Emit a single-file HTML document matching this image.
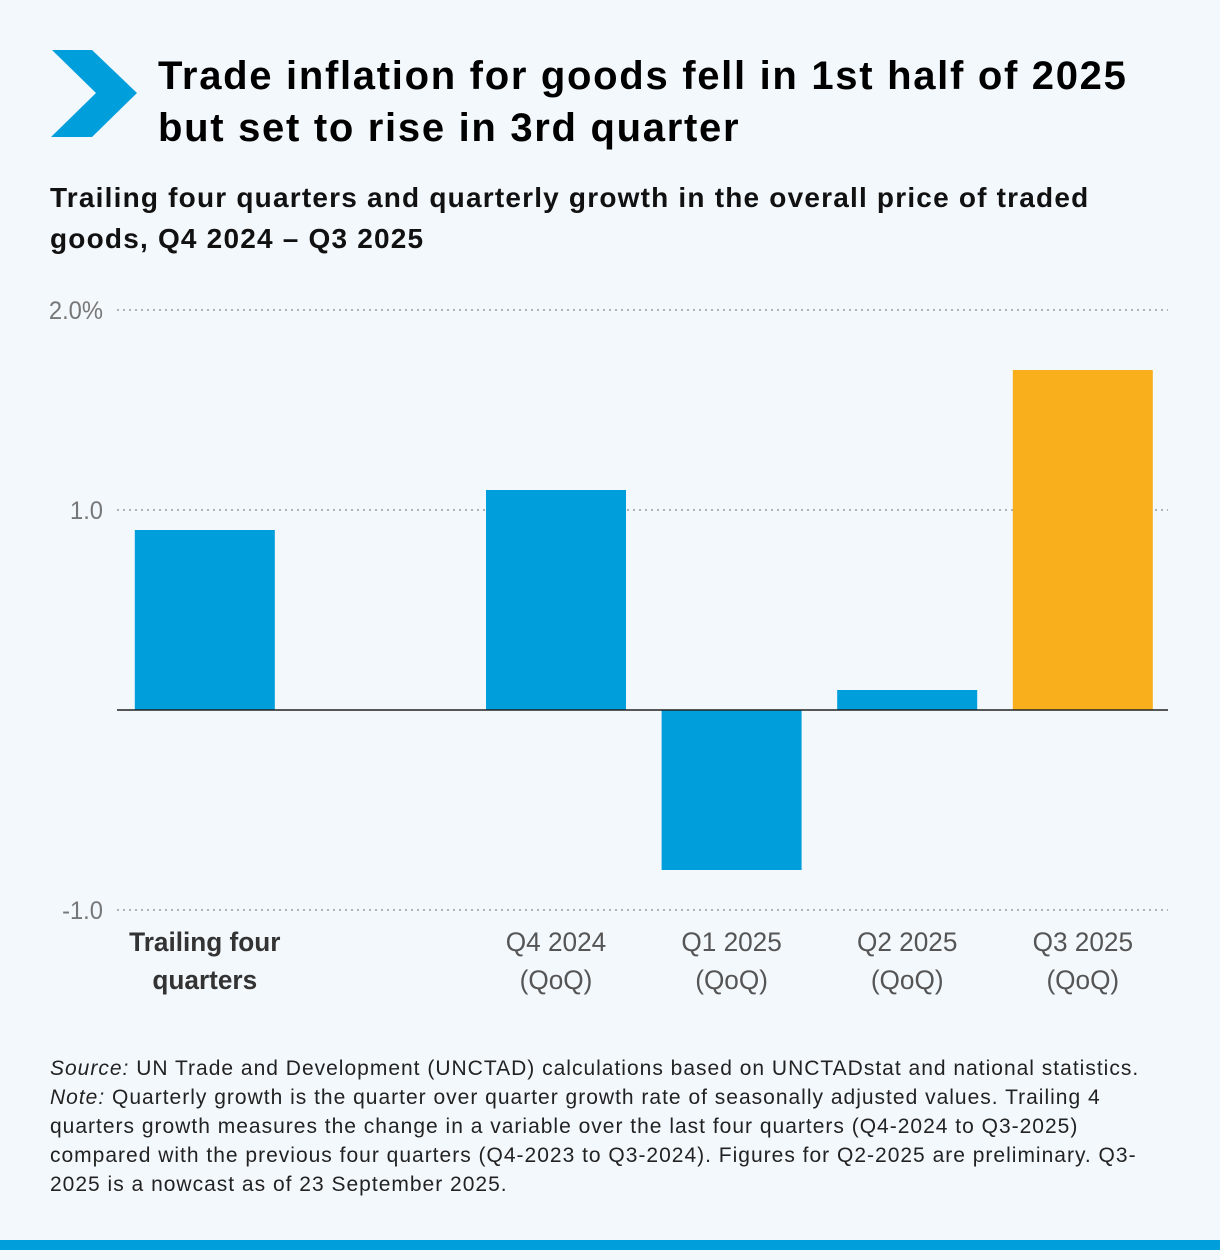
<!DOCTYPE html>
<html><head><meta charset="utf-8"><style>
body{margin:0;width:1220px;height:1260px;background:#f3f8fc;font-family:"Liberation Sans",sans-serif;position:relative;overflow:hidden}
.t{position:absolute;white-space:nowrap}
</style></head><body>
<svg width="1220" height="160" style="position:absolute;left:0;top:0">
<polygon points="52,50 92,50 137,93 92,137 51,137 96,93" fill="#009edb"/></svg>
<div class="t" style="left:158px;top:50px;font-size:40px;letter-spacing:1.7px;font-weight:bold;line-height:52px;color:#000">Trade inflation for goods fell in 1st half of 2025<br>but set to rise in 3rd quarter</div>
<div class="t" style="left:50px;top:177px;font-size:28px;letter-spacing:1.2px;font-weight:bold;line-height:41px;color:#111">Trailing four quarters and quarterly growth in the overall price of traded<br>goods, Q4 2024 – Q3 2025</div>
<svg id="chart" width="1220" height="1020" style="position:absolute;left:0;top:0"></svg>
<div class="t" style="left:50px;top:1054px;font-size:21px;letter-spacing:1px;line-height:29px;color:#222"><i>Source:</i> UN Trade and Development (UNCTAD) calculations based on UNCTADstat and national statistics.<br><i>Note:</i> Quarterly growth is the quarter over quarter growth rate of seasonally adjusted values. Trailing 4<br>quarters growth measures the change in a variable over the last four quarters (Q4-2024 to Q3-2025)<br>compared with the previous four quarters (Q4-2023 to Q3-2024). Figures for Q2-2025 are preliminary. Q3-<br>2025 is a nowcast as of 23 September 2025.</div>
<div style="position:absolute;left:0;top:1240px;width:1220px;height:10px;background:#009edb"></div>
<script>
const categories=["Trailing four|quarters","","Q4 2024|(QoQ)","Q1 2025|(QoQ)","Q2 2025|(QoQ)","Q3 2025|(QoQ)"];
const values=[0.9,null,1.1,-0.8,0.1,1.7];
const colors=["#009edb","#009edb","#009edb","#009edb","#009edb","#f9ae1b"];
const ticks=[2,1,0,-1];
const tickLabels=["2.0%","1.0","","-1.0"];
const NS="http://www.w3.org/2000/svg",svg=document.getElementById('chart');
const y=v=>710-v*200;
const x0=117,slot=175.6,bw=140;
const cx=i=>x0+slot*(i+0.5);
const sx=0.97;
function mk(t,a){const e=document.createElementNS(NS,t);for(const k in a)e.setAttribute(k,a[k]);svg.appendChild(e);return e;}
ticks.forEach((v,i)=>{
 if(v!==0){const l=mk('line',{x1:117,x2:1168,y1:y(v),y2:y(v),stroke:'#999','stroke-dasharray':'2,4','stroke-width':1.5});
 
 }
 if(tickLabels[i]){const t=mk('text',{x:103,y:y(v)+9,'text-anchor':'end','font-size':25,fill:'#777'});
 t.setAttribute('transform',`translate(${103-103*0.95},0) scale(0.95,1)`);
 t.textContent=tickLabels[i];
 
 }
});
values.forEach((v,i)=>{
 if(v!==null){const r=mk('rect',{x:cx(i)-bw/2,y:Math.min(y(v),y(0)),width:bw,height:Math.abs(y(v)-y(0)),fill:colors[i]});
 
 }
 if(categories[i]){categories[i].split('|').forEach((s,j)=>{
  const t=mk('text',{x:cx(i)/sx,y:951+j*38,'text-anchor':'middle','font-size':27,fill:i===0?'#333':'#555','font-weight':i===0?'bold':'normal',transform:`scale(${sx},1)`});
  t.textContent=s;
  
  });}
});
const z=mk('line',{x1:117,x2:1168,y1:y(0),y2:y(0),stroke:'#222','stroke-width':1.5});


</script>
</body></html>
